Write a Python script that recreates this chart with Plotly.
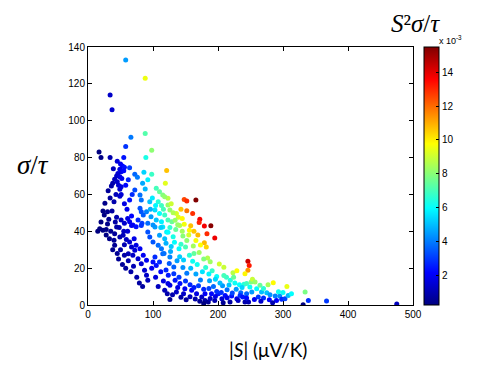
import plotly.graph_objects as go

# |S| (uV/K) and sigma/tau, grouped by region
S_upper = [58, 88, 34, 37, 88, 66, 58, 98, 17, 20, 34, 55, 89, 121, 98]
y_upper = [133, 123, 114, 106, 93, 91, 86, 84, 83, 80, 80, 80, 80, 73, 71]

S_left = [50, 53, 56, 49, 51, 55, 46, 44, 49, 52, 41, 45, 38, 36, 47, 51, 49, 51, 49, 72, 76, 64,
          26, 23, 30, 37, 25, 32, 44, 51, 56, 61, 67, 64, 69, 80, 82, 77, 83, 74,
          28, 33, 38, 45, 50, 47, 53, 58, 62, 66, 70, 75, 79, 71, 61, 48, 42, 55, 60, 56, 64, 68,
          40, 34, 31, 43, 58, 62, 45, 39, 30, 20, 15]
y_left = [76.5, 75.4, 74.7, 73.6, 72.3, 72.9, 71.4, 70, 69.6, 68.7, 68.2, 66.9, 66, 64.6, 65, 64.2, 62.8, 60, 59, 70.9, 69.3, 74.5,
          55.2, 51, 50.6, 51, 48.8, 46.5, 47.6, 46.1, 44.3, 47, 48.3, 45.2, 43.4, 52.5, 50.6, 46.1, 44.3, 42.5,
          38, 36, 30, 28, 30, 25, 22, 20, 24, 18, 21, 15, 12, 36, 40, 42, 45, 40, 52, 55, 57, 60,
          56, 58, 62, 60, 65, 68, 78, 74, 44, 45, 40]

S_lowleft = [18, 23, 28, 35, 41, 44, 49, 40, 41, 54, 59, 56, 64, 67, 72, 62, 56, 69, 77, 82, 87, 90, 92,
             74, 80, 85, 90, 100, 105, 110, 103, 123, 122, 95, 92, 100, 108, 113, 115, 118, 110, 121, 115,
             103, 82, 67, 104, 112, 116, 108, 120, 98, 84, 118, 126]
y_lowleft = [41.4, 40.5, 41, 40, 38.7, 42.3, 36.9, 35.1, 32.4, 37.8, 35.6, 32.7, 34.2, 31.5, 29.7, 27.8, 27, 27, 25.1, 22.4, 18.8, 16.1, 13.4,
             32.4, 30.5, 27, 24.3, 23.3, 21.5, 23.3, 26, 11.6, 6.1, 36.9, 39.6, 34.2, 32.4, 30.5, 27.8, 36, 37.8, 39.6, 42.3,
             42.3, 43.2, 43.2, 15, 18, 13, 10, 19, 20, 10, 8, 3]

S_band = [119, 105, 110, 115, 95, 123, 123, 103, 110, 118, 97, 105, 90, 85, 92, 100, 113, 123, 80, 72, 82,
          84, 88, 92, 86,
          118, 126, 136, 139, 129, 148, 158, 148, 152, 166, 152, 161, 172, 171, 179, 189, 141, 195, 183, 179,
          108, 113, 128, 131, 143, 134, 145, 116, 99, 104, 96, 112, 126, 138, 156, 163, 169]
y_band = [66, 63.3, 61.5, 59.7, 56, 57.9, 54.3, 51.5, 49.7, 48.8, 47.9, 46.1, 50.6, 48.8, 44.3, 43.4, 45.2, 46.1, 59.7, 62.4, 57,
          66, 63, 68, 72,
          58.8, 51.5, 49.7, 47.6, 45.2, 43.8, 43, 57.3, 56.4, 57, 51.2, 49.7, 46.5, 44.7, 42.9, 43, 43.2, 36.4, 38.7, 33.8,
          56, 54, 55, 50, 52, 46, 47, 52, 58, 54, 52, 42, 42, 43.5, 40.5, 40, 38]

S_mid = [123, 131, 146, 152, 166, 173, 182,
         120, 133, 140, 150, 163, 171, 184, 188, 202, 209, 223, 229,
         117, 127, 141, 147, 161, 168, 181, 191, 198, 213, 219, 233, 240,
         125, 132, 146, 152, 166, 173, 187, 193, 207, 214, 228, 235,
         128, 137, 143, 156, 158, 176, 178, 186, 196, 203, 209, 217, 224, 237, 226, 155, 162, 135, 145, 126]
y_mid = [39.5, 37, 37.5, 35, 35, 32.5, 31.5,
         33.5, 34, 30.5, 31.5, 28, 28.5, 25.5, 23.5, 22.3, 20.5, 17.5, 18.6,
         28, 29, 26.2, 24.4, 23.8, 22, 20.3, 18.6, 15.4, 15, 13.4, 11, 11.3,
         22.5, 20.6, 20.4, 17.2, 16.8, 13.6, 13.2, 10.1, 10.4, 8.3, 8.5, 6.6,
         31.8, 24, 33, 27, 20, 18, 25, 16.8, 14, 12, 16, 10.8, 15, 9.5, 12, 38, 32, 41, 40, 26]

S_bottom = [123.5, 134, 126, 141.5, 136, 149, 147, 159.5, 167, 175, 180, 185, 195, 206, 208, 218.5, 229, 241.5,
            180, 190, 200.5, 211, 221, 234, 244,
            132, 140, 150, 157, 163, 170, 178, 186, 198, 205, 214, 222, 231, 238, 196, 188, 172, 178, 165, 157, 151, 143, 138, 130]
y_bottom = [16.1, 13.4, 10.7, 11.6, 7, 8.8, 6.1, 8, 6.1, 4.3, 2.5, 1.6, 2.5, 3.4, 1.2, 1.6, 3.4, 1.6,
            6.1, 6.1, 6.1, 5.2, 4.9, 5.2, 6.1,
            17, 15, 13, 11, 9.5, 10.5, 8.5, 9, 7.3, 6.8, 4, 6.5, 2.4, 4.3, 4.6, 3.5, 2, 0.8, 3.2, 4.5, 2.8, 4.2, 9.5, 5.5]

S_tail = [246, 248, 246, 241.5, 244, 249, 252, 259.5, 264.6, 267, 262, 270, 275, 280, 285, 288, 290, 295, 298,
          303, 306, 308, 313, 334, 331, 339, 367, 247, 244, 475,
          256, 266, 279, 284, 293, 300, 251, 270, 277, 253, 257]
y_tail = [23.7, 21.5, 18.8, 17, 11.6, 9.8, 7, 8.8, 10.7, 7, 4.3, 3.8, 6.7, 5.6, 12.1, 4.9, 2.5, 4.9, 3.1,
          3.4, 10.1, 5.2, 6.1, 7, 0.2, 2.5, 2.2, 1.6, 3.8, 0.5,
          3, 2, 2.8, 1.2, 7.2, 6.8, 12.5, 9, 11, 14, 12.5]

S_all = S_upper + S_left + S_lowleft + S_band + S_mid + S_bottom + S_tail
y_all = y_upper + y_left + y_lowleft + y_band + y_mid + y_bottom + y_tail
# colour = S^2 * sigma/tau, shown in units of 1e-3 (as the colour bar)
pf = [s * s * v * 1e-5 for s, v in zip(S_all, y_all)]

x_ticks = [0, 100, 200, 300, 400, 500]
y_ticks = [0, 20, 40, 60, 80, 100, 120, 140]
cb_ticks = [2, 4, 6, 8, 10, 12, 14]

jet = [[0.0, "rgb(0,0,128)"], [0.125, "rgb(0,0,255)"], [0.375, "rgb(0,255,255)"],
       [0.625, "rgb(255,255,0)"], [0.875, "rgb(255,0,0)"], [1.0, "rgb(128,0,0)"]]

fig = go.Figure(go.Scatter(
    x=S_all, y=y_all, mode="markers",
    marker=dict(size=5, color=pf, colorscale=jet, cmin=0.24, cmax=15.5,
                line=dict(width=0),
                colorbar=dict(x=1.034, xanchor="left", y=0.5, yanchor="middle", len=1, lenmode="fraction",
                              xpad=0, ypad=0,
                              thickness=15, outlinewidth=1, outlinecolor="black",
                              tickvals=cb_ticks, ticks="inside", ticklen=3, tickcolor="black",
                              tickfont=dict(family="Liberation Sans", size=10, color="black"))),
    showlegend=False))

# the page places the figure 8 px from the window's top-left corner
OFF = 8
W, H = 480 - OFF, 368 - OFF
L, R, T, B = 88 - OFF, 413 - OFF, 47 - OFF, 305 - OFF
def px(xp):
    return (xp - OFF - L) / (R - L)
def py(yp):
    return (B - (yp - OFF)) / (B - T)

axis_common = dict(showline=True, linecolor="black", linewidth=1, mirror="ticks", ticks="inside",
                   ticklen=4, tickcolor="black", showgrid=False, zeroline=False, automargin=False,
                   tickfont=dict(family="Liberation Sans", size=10, color="black"))
fig.update_xaxes(range=[0, 500], tickvals=x_ticks, **axis_common)
fig.update_yaxes(range=[0, 140], tickvals=y_ticks, **axis_common)

ann = [
    dict(text="<i>S</i>²<i>σ</i>/<i>τ</i>", x=px(415), y=py(OFF), yanchor="top",
         font=dict(family="Liberation Serif", size=25, color="black")),
    dict(text="x 10<sup>-3</sup>", x=px(437), y=py(40), xanchor="left", font=dict(family="Liberation Sans", size=9, color="black")),
    dict(text="<i>σ</i>/<i>τ</i>", x=px(33), y=py(165), font=dict(family="Liberation Serif", size=27, color="black")),
    dict(text="|<i>S</i>| (μV/K)", x=px(268), y=py(349), font=dict(family="Lato", size=19, color="black")),
]
for a in ann:
    a.setdefault("xanchor", "center")
    a.setdefault("yanchor", "middle")
    fig.add_annotation(xref="paper", yref="paper", showarrow=False, **a)

fig.update_layout(width=W, height=H, margin=dict(l=L, r=W - R, t=T, b=H - B),
                  plot_bgcolor="white", paper_bgcolor="white")
fig.write_html("out.html")
